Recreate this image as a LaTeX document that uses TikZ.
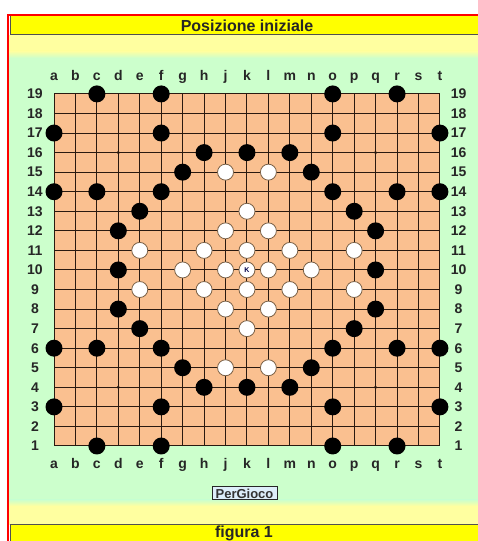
\documentclass[tikz,border=0pt]{standalone}
\usepackage{fontspec}
\setmainfont{Liberation Sans}
\usepackage{tikz}
\usetikzlibrary{positioning}
\definecolor{FrameRed}{HTML}{FF0000}
\definecolor{BarYellow}{HTML}{FFFF00}
\definecolor{PaleYellow}{HTML}{FFFFA0}
\definecolor{PaleGreen}{HTML}{CCFFCC}
\definecolor{BoardPeach}{HTML}{FAC090}
\definecolor{GridBrown}{HTML}{2A1A10}
\definecolor{StoneRim}{HTML}{7A6045}
\definecolor{ButtonBlue}{HTML}{DDEEFA}
\definecolor{BarEdge}{HTML}{505050}

\begin{document}
\begin{tikzpicture}[x=1pt,y=1pt,
          bar/.style={fill=BarYellow,draw=BarEdge,line width=1pt},
          bartext/.style={font=\bfseries\fontsize{16}{18}\selectfont,
                          text=black!85,anchor=base,inner sep=0pt},
          lab/.style={font=\bfseries\fontsize{14}{16}\selectfont,
                      text=black!85,inner sep=0pt},
          gridline/.style={GridBrown,line width=1pt},
          blk/.style={circle,fill=black,minimum size=17pt,inner sep=0pt},
          wht/.style={circle,fill=white,draw=StoneRim,line width=.8pt,
                      minimum size=16pt,inner sep=0pt},
          btn/.style={draw=black!85,fill=ButtonBlue,line width=1pt,
                      minimum width=65pt,minimum height=13pt,inner sep=0pt,
                      font=\bfseries\fontsize{13}{15}\selectfont,text=black!80}]
        \useasboundingbox (0,0) rectangle (477,541);
        % page background
        \fill[PaleYellow] (9,16) rectangle (490,506);
        \shade[top color=PaleYellow,bottom color=PaleGreen] (9,483) rectangle (490,490);
        \fill[PaleGreen] (9,41) rectangle (490,483.2);
        \shade[top color=PaleGreen,bottom color=PaleYellow] (9,35) rectangle (490,41.2);
        % title and caption bars
        \filldraw[bar] (10,506) rectangle (495,525);
        \filldraw[bar] (10,-10) rectangle (495,16);
        \node[bartext] (title) at (247,509.3) {Posizione iniziale};
        \node[bartext] (caption) at (244,3.6) {figura 1};
        \draw[FrameRed,line width=2pt] (8,-10) -- (8,526) -- (495,526);
        % board
        \begin{scope}[shift={(32.56pt,75.44pt)},x=21.44pt,y=19.56pt]
          \fill[BoardPeach] (1,1) rectangle (19,19);
          \foreach \i in {1,...,19} {
            \draw[gridline] (\i,1) -- (\i,19);
            \draw[gridline] (1,\i) -- (19,\i);
          }
          \foreach \c/\r in {4/16,16/16,4/4,16/4}
            \fill[GridBrown] (\c,\r) circle (1.7pt);
          % coordinates
          \foreach \l [count=\i] in {a,b,c,d,e,f,g,h,j,k,l,m,n,o,p,q,r,s,t} {
            \node[lab,anchor=base] (top-\l) at (\i,19.69) {\l};
            \node[lab,anchor=base] (bot-\l) at (\i,-0.14) {\l};
          }
          \foreach \r in {1,...,19} {
            \node[lab] (left-\r) at (0.11,\r) {\r};
            \node[lab] (right-\r) at (19.87,\r) {\r};
          }
          % black stones
          \foreach \c/\r in {3/19,6/19,14/19,17/19,
                             1/17,6/17,14/17,19/17,
                             8/16,10/16,12/16,7/15,13/15,
                             1/14,3/14,6/14,14/14,17/14,19/14,
                             5/13,15/13,4/12,16/12,4/10,16/10,
                             4/8,16/8,5/7,15/7,
                             1/6,3/6,6/6,14/6,17/6,19/6,
                             7/5,13/5,8/4,10/4,12/4,
                             1/3,6/3,14/3,19/3,
                             3/1,6/1,14/1,17/1}
            \node[blk] (b\c-\r) at (\c,\r) {};
          % white stones
          \foreach \c/\r in {9/15,11/15,10/13,9/12,11/12,
                             5/11,8/11,10/11,12/11,15/11,
                             7/10,9/10,11/10,13/10,
                             5/9,8/9,10/9,12/9,15/9,
                             9/8,11/8,10/7,9/5,11/5}
            \node[wht] (w\c-\r) at (\c,\r) {};
          \node[wht,font=\bfseries\fontsize{7}{8}\selectfont,text=blue!30!black]
            (kstone) at (10,10) {K};
        \end{scope}
        \node[btn] (pergioco) at (244.5,47.5) {PerGioco};
      \end{tikzpicture}
\end{document}
